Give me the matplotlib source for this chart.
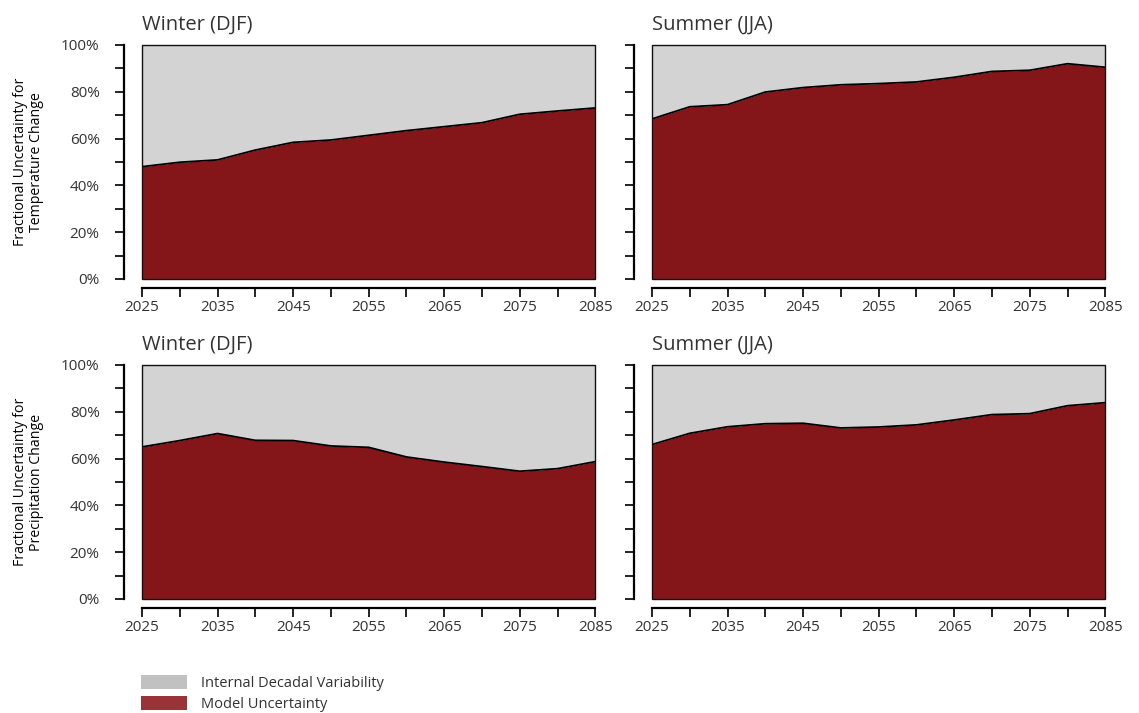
import matplotlib
matplotlib.use("Agg")
import matplotlib.pyplot as plt
from matplotlib.patches import Rectangle, Patch
from matplotlib.ticker import MultipleLocator, FixedLocator, FuncFormatter

plt.rcParams['font.family'] = ['Open Sans', 'DejaVu Sans']
plt.rcParams['text.color'] = '#333333'
plt.rcParams['xtick.color'] = '#111111'
plt.rcParams['ytick.color'] = '#111111'
plt.rcParams['xtick.labelcolor'] = '#333333'
plt.rcParams['ytick.labelcolor'] = '#333333'

years = [2025, 2030, 2035, 2040, 2045, 2050, 2055, 2060, 2065, 2070, 2075, 2080, 2085]

# share of total uncertainty from model differences (%), remainder is internal variability
temp_winter = [48.0, 49.9, 50.9, 55.1, 58.4, 59.4, 61.4, 63.4, 65.1, 66.8, 70.4, 71.8, 73.1]
temp_summer = [68.4, 73.6, 74.5, 79.9, 81.8, 83.0, 83.5, 84.2, 86.2, 88.7, 89.2, 92.0, 90.5]
prec_winter = [65.0, 67.7, 70.7, 67.8, 67.7, 65.4, 64.8, 60.7, 58.5, 56.6, 54.6, 55.7, 58.7]
prec_summer = [66.0, 70.8, 73.6, 74.9, 75.1, 73.1, 73.5, 74.4, 76.5, 78.8, 79.2, 82.6, 83.9]

season_titles = ['Winter (DJF)', 'Summer (JJA)']
row_labels = ['Fractional Uncertainty for\nTemperature Change',
              'Fractional Uncertainty for\nPrecipitation Change']
legend_labels = ['Internal Decadal Variability', 'Model Uncertainty']

year_labels = [2025, 2035, 2045, 2055, 2065, 2075, 2085]
year_minor = [2030, 2040, 2050, 2060, 2070, 2080]

RED = '#84161a'
GREY = '#d3d3d3'

fig = plt.figure(figsize=(11.39, 7.13), dpi=100)

lefts = [0.1247, 0.5724]
bottoms = [0.6087, 0.1599]
width, height = 0.3980, 0.3282

panels = [[temp_winter, temp_summer], [prec_winter, prec_summer]]

for r in range(2):
    for c in range(2):
        vals = panels[r][c]
        ax = fig.add_axes([lefts[c], bottoms[r], width, height])
        ax.fill_between(years, 0, vals, color=RED, lw=0)
        ax.fill_between(years, vals, 100, color=GREY, lw=0)
        ax.plot(years, vals, color='black', lw=1.3)
        ax.add_patch(Rectangle((0, 0), 1, 1, transform=ax.transAxes, fill=False,
                               edgecolor='#111111', lw=1.0, clip_on=False, zorder=5))
        ax.set_xlim(2025, 2085)
        ax.set_ylim(0, 100)

        for s in ['top', 'right']:
            ax.spines[s].set_visible(False)
        ax.spines['left'].set_position(('outward', 13))
        ax.spines['bottom'].set_position(('outward', 6.5))
        ax.spines['left'].set_bounds(0, 100)
        ax.spines['bottom'].set_bounds(2025, 2085)
        ax.spines['left'].set_linewidth(1.6)
        ax.spines['bottom'].set_linewidth(1.6)

        ax.yaxis.set_major_locator(MultipleLocator(20))
        ax.yaxis.set_minor_locator(MultipleLocator(10))
        ax.xaxis.set_major_locator(FixedLocator(year_labels))
        ax.xaxis.set_minor_locator(FixedLocator(year_minor))
        ax.tick_params(axis='both', which='both', direction='out', length=6.5, width=1.3)
        ax.tick_params(axis='both', which='major', labelsize=11)
        ax.tick_params(axis='x', which='major', pad=2)
        ax.tick_params(axis='y', which='major', pad=11)
        if c == 0:
            ax.yaxis.set_major_formatter(FuncFormatter(lambda v, p: f'{int(v)}%'))
            ax.set_ylabel(row_labels[r], fontsize=10.2, labelpad=12, linespacing=1.15)
        else:
            ax.set_yticklabels([])

        ax.set_title(season_titles[c], loc='left', fontsize=14.5, pad=11)

handles = [Patch(facecolor='#c1c1c1', edgecolor='none'),
           Patch(facecolor='#9a3338', edgecolor='none')]
fig.legend(handles, legend_labels, loc='upper left', bbox_to_anchor=(0.1185, 0.062),
           frameon=False, fontsize=10.5, handlelength=3.15, handleheight=1.1,
           handletextpad=1.0, labelspacing=0.4, borderaxespad=0)

fig.savefig('out.png', dpi=100)
